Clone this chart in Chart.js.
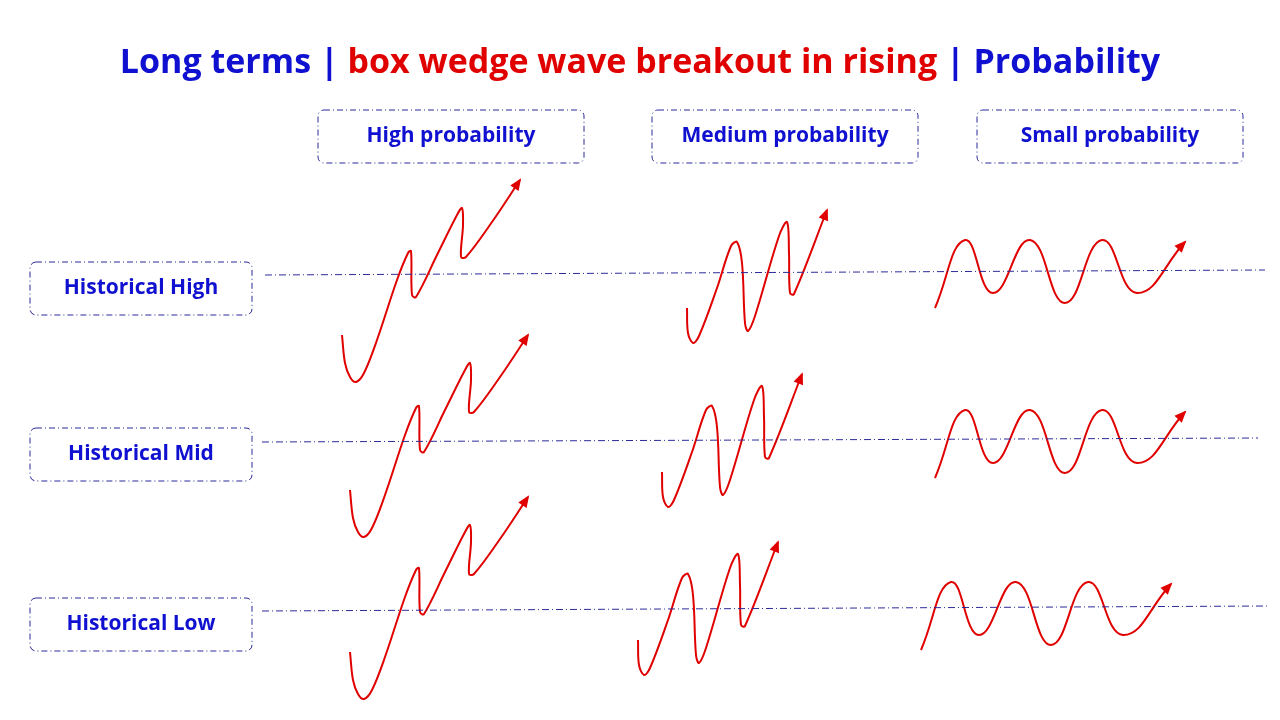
<!DOCTYPE html>
<html>
<head>
<meta charset="utf-8">
<script src="https://cdn.jsdelivr.net/npm/chart.js@4"></script>
<style>
  html, body { margin: 0; padding: 0; background: #fff; }
  #wrap { width: 1280px; height: 720px; }
</style>
</head>
<body>
<div id="wrap"><canvas id="patternChart"></canvas></div>
<script>
// Curve shapes, relative to their start point (x right, y down)
const highShape = [[0,0],[3,28],[8,42],[14,47],[22,38],[35,5],[55,-55],[66,-82],[69,-84],[70,-40],[74,-38],[95,-80],[115,-120],[120,-127],[121,-110],[119,-78],[124,-78],[150,-113],[178,-155]];
const mediumShape = [[0,0],[1,25],[6,35],[12,28],[30,-20],[44,-62],[50,-66],[55,-45],[58,15],[61,23],[68,8],[92,-72],[100,-86],[102,-55],[103,-15],[107,-14],[140,-98]];
const smallShape = [[0,0],[30,-68],[58,-15],[95,-68],[130,-5],[167,-68],[202,-15],[250,-66]];

// Start points per row (Historical High, Mid, Low)
const rowLabels = ["Historical High", "Historical Mid", "Historical Low"];
const colLabels = ["High probability", "Medium probability", "Small probability"];
const highStarts = [[342,335],[350,490],[350,652]];
const mediumStarts = [[687,308],[662,472],[638,640]];
const smallStarts = [[935,308],[935,478],[921,650]];
const levelLines = [[[265,275],[1265,270]], [[262,442],[1258,438]], [[262,611],[1268,606]]];

const BLUE = "#1010d0";
const RED = "#e00000";

function place(shape, start) {
  return shape.map(p => ({x: start[0] + p[0], y: start[1] + p[1]}));
}

const datasets = [];
levelLines.forEach(l => datasets.push({
  data: l.map(p => ({x: p[0], y: p[1]})), showLine: true, borderColor: "#2a2a9a",
  borderWidth: 1, borderDash: [7, 3, 1, 3], pointRadius: 0, arrow: false
}));
[[highShape, highStarts, 0.35], [mediumShape, mediumStarts, 0.35], [smallShape, smallStarts, 0.45]].forEach(([shape, starts, t]) => {
  starts.forEach(s => datasets.push({
    data: place(shape, s), showLine: true, borderColor: RED, borderWidth: 2,
    tension: t, pointRadius: 0, arrow: true
  }));
});

const decor = {
  id: "decor",
  afterDraw(chart) {
    const {ctx, scales: {x, y}} = chart;
    const X = v => x.getPixelForValue(v), Y = v => y.getPixelForValue(v);
    // arrowheads
    chart.data.datasets.forEach((ds, i) => {
      if (!ds.arrow) return;
      const pts = chart.getDatasetMeta(i).data;
      const a = pts[pts.length - 1], b = pts[pts.length - 2];
      const ang = Math.atan2(a.y - b.y, a.x - b.x);
      ctx.save();
      ctx.translate(a.x, a.y); ctx.rotate(ang);
      ctx.fillStyle = RED;
      ctx.beginPath(); ctx.moveTo(2, 0); ctx.lineTo(-10, -5); ctx.lineTo(-10, 5); ctx.closePath(); ctx.fill();
      ctx.restore();
    });
    // boxes
    function box(x0, y0, x1, y1, label) {
      ctx.save();
      ctx.strokeStyle = "#2a2a9a"; ctx.lineWidth = 1; ctx.setLineDash([6, 3, 1, 3]);
      ctx.beginPath(); ctx.roundRect(X(x0), Y(y0), X(x1) - X(x0), Y(y1) - Y(y0), 6); ctx.stroke();
      ctx.setLineDash([]);
      ctx.fillStyle = BLUE; ctx.font = "bold 21px 'Open Sans', sans-serif";
      ctx.textAlign = "center"; ctx.textBaseline = "middle";
      ctx.fillText(label, X((x0 + x1) / 2), Y((y0 + y1) / 2));
      ctx.restore();
    }
    [[262,315],[428,481],[598,651]].forEach((r, i) => box(30, r[0], 252, r[1], rowLabels[i]));
    [[318,584],[652,918],[977,1243]].forEach((c, i) => box(c[0], 110, c[1], 163, colLabels[i]));
    // title
    const parts = [["Long terms | ", BLUE], ["box wedge wave breakout in rising", RED], [" | Probability", BLUE]];
    ctx.save();
    ctx.font = "bold 34px 'Open Sans', sans-serif"; ctx.textBaseline = "middle";
    const total = parts.reduce((s, p) => s + ctx.measureText(p[0]).width, 0);
    let cx = X(640) - total / 2;
    parts.forEach(p => { ctx.fillStyle = p[1]; ctx.fillText(p[0], cx, Y(63)); cx += ctx.measureText(p[0]).width; });
    ctx.restore();
  }
};

new Chart(document.getElementById("patternChart"), {
  type: "scatter",
  data: {datasets},
  options: {
    responsive: true, maintainAspectRatio: false, animation: false,
    layout: {padding: 0},
    plugins: {legend: {display: false}, tooltip: {enabled: false}},
    scales: {
      x: {type: "linear", min: 0, max: 1280, display: false},
      y: {type: "linear", min: 0, max: 720, reverse: true, display: false}
    }
  },
  plugins: [decor]
});
</script>
</body>
</html>
